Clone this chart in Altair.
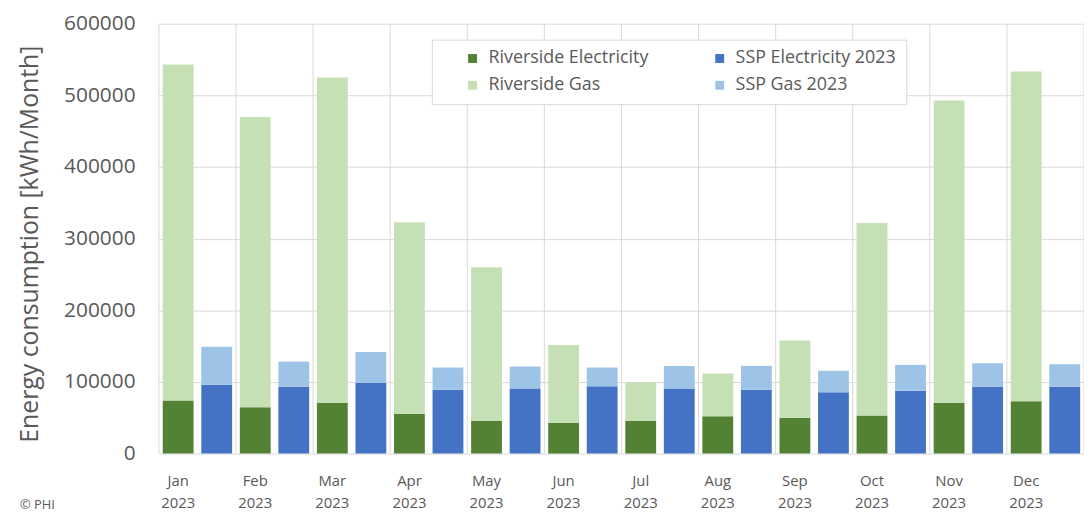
import altair as alt
import pandas as pd

months = ["Jan", "Feb", "Mar", "Apr", "May", "Jun", "Jul", "Aug", "Sep", "Oct", "Nov", "Dec"]
year = "2023"
riverside_elec = [74000, 64700, 70700, 55400, 45300, 43000, 45300, 52200, 49900, 53100, 70700, 73000]
riverside_gas = [469000, 405300, 454300, 267600, 214700, 108500, 54000, 59600, 108100, 268900, 422300, 460500]
ssp_elec = [96000, 93300, 98400, 89100, 91000, 93800, 91000, 89100, 85500, 87700, 93300, 93300]
ssp_gas = [53200, 35100, 43400, 31000, 30500, 26300, 31400, 33300, 30000, 36100, 32800, 31400]

series_names = ["Riverside Electricity", "SSP Electricity 2023", "Riverside Gas", "SSP Gas 2023"]
series_colors = ["#548235", "#4472C4", "#C5E0B4", "#9DC3E6"]
y_ticks = [0, 100000, 200000, 300000, 400000, 500000, 600000]

rows = []
cats = []
riv_cats = []
for i, m in enumerate(months):
    rc = f"{m} {year}"
    sc = f"{m} {year} SSP"
    cats += [rc, sc]
    riv_cats.append(rc)
    rows.append({"cat": rc, "series": "Riverside Electricity", "value": riverside_elec[i], "ord": 0})
    rows.append({"cat": rc, "series": "Riverside Gas", "value": riverside_gas[i], "ord": 1})
    rows.append({"cat": sc, "series": "SSP Electricity 2023", "value": ssp_elec[i], "ord": 0})
    rows.append({"cat": sc, "series": "SSP Gas 2023", "value": ssp_gas[i], "ord": 1})
df = pd.DataFrame(rows)

grid_df = pd.DataFrame({"k": list(range(len(months) + 1))})

FONT = "Open Sans"
GRAY = "#595959"
W, H = 932, 433

vgrid = alt.Chart(grid_df).mark_rule(color="#d9d9d9", strokeWidth=1).encode(
    x=alt.X("k:Q", scale=alt.Scale(domain=[0, len(months)], nice=False, zero=False), axis=None)
)

bars = alt.Chart(df).mark_bar().encode(
    x=alt.X(
        "cat:N",
        sort=cats,
        scale=alt.Scale(domain=cats, paddingInner=0.2, paddingOuter=0.1),
        axis=alt.Axis(
            title=None,
            values=riv_cats,
            labelExpr="split(datum.value, ' ')",
            labelAngle=0,
            labelFont=FONT,
            labelFontSize=15,
            labelColor=GRAY,
            labelLineHeight=22,
            labelPadding=20,
            labelBaseline="top",
            ticks=False,
            domain=False,
            grid=False,
        ),
    ),
    y=alt.Y(
        "value:Q",
        stack="zero",
        scale=alt.Scale(domain=[0, 600000], nice=False),
        axis=alt.Axis(
            title="Energy consumption [kWh/Month]",
            values=y_ticks,
            format="d",
            labelFont=FONT,
            labelFontSize=21,
            labelColor=GRAY,
            labelPadding=24,
            ticks=False,
            domain=False,
            grid=True,
            gridColor="#d9d9d9",
            titleFont=FONT,
            titleFontSize=25,
            titleFontWeight="normal",
            titleColor=GRAY,
            titleX=-130,
            titleY=H / 2 + 5,
            titleAngle=270,
            titleAlign="center",
            titleBaseline="middle",
        ),
    ),
    color=alt.Color(
        "series:N",
        scale=alt.Scale(domain=series_names, range=series_colors),
        legend=alt.Legend(
            title=None,
            orient="none",
            legendX=275,
            legendY=16,
            columns=2,
            direction="horizontal",
            symbolType="square",
            symbolSize=80,
            symbolStrokeWidth=0,
            symbolOffset=22,
            labelFont=FONT,
            labelFontSize=18,
            labelColor=GRAY,
            labelOffset=7,
            columnPadding=40,
            rowPadding=9,
            padding=10,
            fillColor="white",
            strokeColor="#d9d9d9",
            labelLimit=300,
        ),
    ),
    order=alt.Order("ord:Q"),
)

credit = alt.Chart(pd.DataFrame({"t": ["© PHI"]})).mark_text(
    align="left", baseline="middle", font=FONT, fontSize=13, color=GRAY
).encode(text="t:N", x=alt.value(-140), y=alt.value(485))

chart = alt.layer(vgrid, bars, credit).resolve_scale(x="independent").properties(
    width=W,
    height=H,
    autosize=alt.AutoSizeParams(type="none"),
    padding={"left": 152, "top": 14, "right": 0, "bottom": 58},
).configure_view(stroke=None)

chart.save("out.html", embed_options={"renderer": "svg", "actions": False})
